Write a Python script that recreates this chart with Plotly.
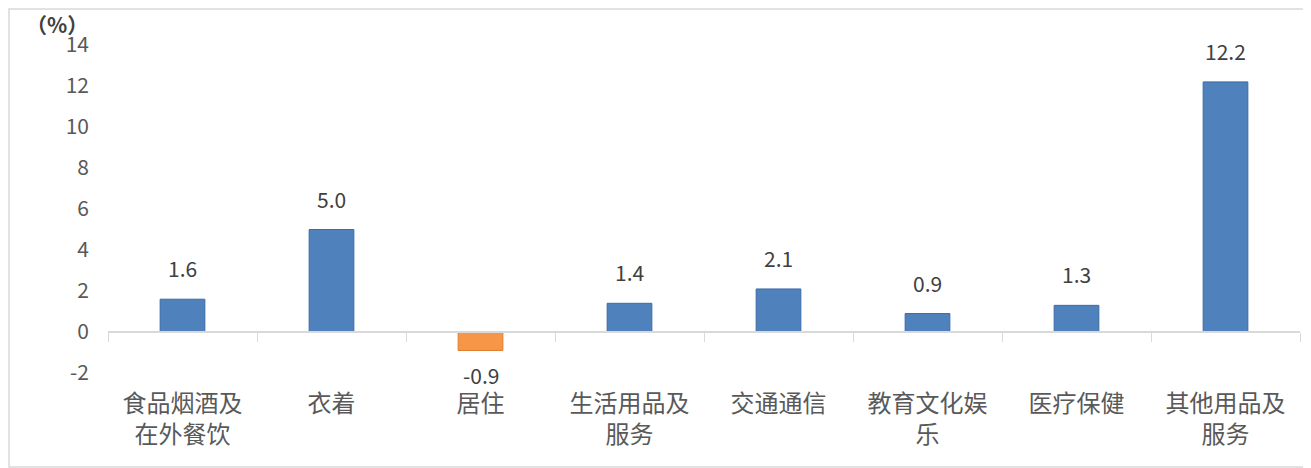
import plotly.graph_objects as go

categories = ["食品烟酒及<br>在外餐饮", "衣着", "居住", "生活用品及<br>服务",
              "交通通信", "教育文化娱<br>乐", "医疗保健", "其他用品及<br>服务"]
values = [1.6, 5.0, -0.9, 1.4, 2.1, 0.9, 1.3, 12.2]
y_ticks = [-2, 0, 2, 4, 6, 8, 10, 12, 14]

blue = "#4F81BD"
orange = "#F79646"
colors = [orange if v < 0 else blue for v in values]
edges = ["#E07B2E" if v < 0 else "#3B6BA5" for v in values]

fig = go.Figure()

fig.add_trace(go.Bar(
    x=categories, y=values,
    marker=dict(color=colors, line=dict(color=edges, width=1)),
    width=0.3,
    showlegend=False,
    hoverinfo="x+y",
))

# invisible trace so the zero-line axis gets its categories
fig.add_trace(go.Scatter(
    x=categories, y=[None] * len(categories),
    xaxis="x2", mode="markers", showlegend=False, hoverinfo="skip",
))

# data labels, pushed away from the bar ends
for c, v in zip(categories, values):
    fig.add_annotation(
        x=c, y=v, text=f"{v:.1f}", showarrow=False,
        yanchor="bottom" if v >= 0 else "top",
        yshift=14 if v >= 0 else -8,
        font=dict(size=21, color="#404040"),
    )

fig.add_annotation(
    xref="paper", yref="paper", x=-51 / 1192, y=1.0,
    text="<b>（%）</b>", showarrow=False, xanchor="center", yanchor="middle",
    yshift=21, font=dict(size=21, color="#404040", family="Noto Sans CJK SC"),
)

# page body has an 8px margin, so the figure is 8px smaller than the window
fig.update_layout(
    width=1303, height=460,
    margin=dict(l=100, r=11, t=37, b=95),
    paper_bgcolor="white", plot_bgcolor="white",
    font=dict(family="Noto Sans CJK SC, sans-serif", color="#595959"),
    bargap=0.7,
    xaxis=dict(
        type="category", showline=False, ticks="", showgrid=False,
        tickfont=dict(size=24, color="#595959"),
        ticklabelstandoff=14, automargin=False,
    ),
    xaxis2=dict(
        type="category", overlaying="x", matches="x", anchor="free",
        position=2 / 16, showline=True, linecolor="#D9D9D9", linewidth=1.5,
        ticks="outside", tickson="boundaries", ticklen=9, tickcolor="#D9D9D9",
        showticklabels=False, showgrid=False, automargin=False,
    ),
    yaxis=dict(
        range=[-2, 14], tickvals=y_ticks, ticktext=[str(t) for t in y_ticks],
        showgrid=False, zeroline=False,
        showline=False, tickfont=dict(size=21, color="#595959"),
        ticklabelstandoff=18, automargin=False,
    ),
    shapes=[dict(
        type="rect", xref="paper", yref="paper",
        x0=-99 / 1192, x1=1 + 10 / 1192, y0=-94 / 328, y1=1 + 36 / 328,
        line=dict(color="#D9D9D9", width=1.5), fillcolor="rgba(0,0,0,0)",
    )],
)

fig.write_html("out.html")
